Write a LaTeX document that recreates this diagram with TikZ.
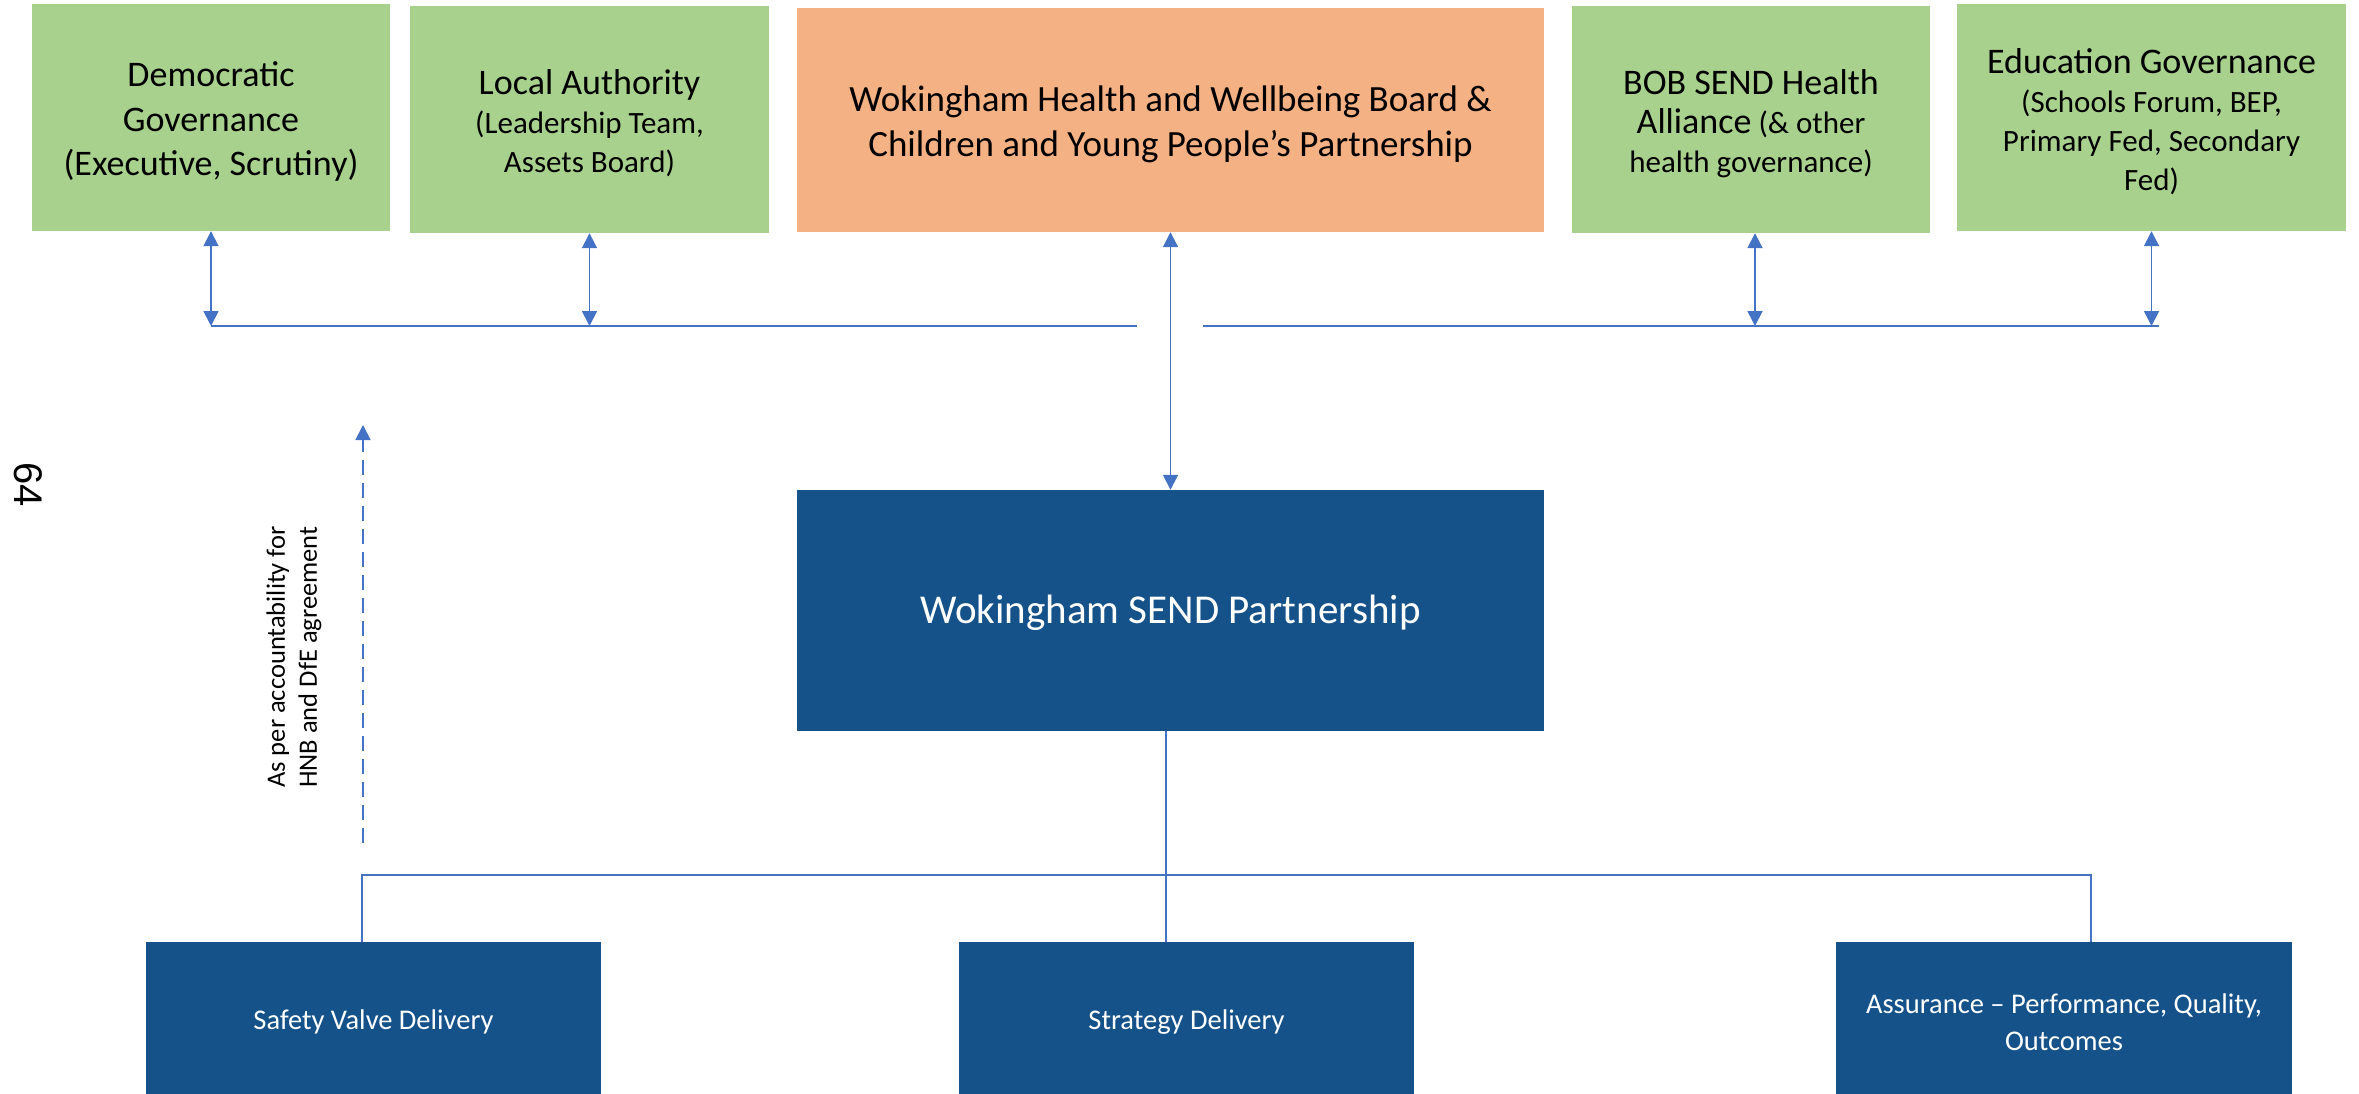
\documentclass[tikz,border=0pt]{standalone}
\usepackage{fontspec}
\setmainfont{Carlito}
\newfontfamily\pagenumfont{Liberation Sans}
\usetikzlibrary{arrows.meta}

\definecolor{govgreen}{HTML}{A9D18E}
\definecolor{hwborange}{HTML}{F4B183}
\definecolor{sendblue}{HTML}{15528A}
\definecolor{linkblue}{HTML}{4472C4}

% larger heading line inside a governance box
\newcommand\govtitle[1]{{\fontsize{36}{39}\selectfont #1}}

\begin{document}
\begin{tikzpicture}[x=1pt,y=-1pt,
  govbox/.style={fill=govgreen, inner sep=0pt, minimum height=227pt},
  boxtext/.style={align=center, inner sep=0pt, yshift=-4pt},
  govtext/.style={boxtext, font=\fontsize{31}{39}\selectfont},
  hwbbox/.style={fill=hwborange, inner sep=0pt},
  sendbox/.style={fill=sendblue, inner sep=0pt},
  sendtext/.style={boxtext, text=white},
  tasktext/.style={sendtext, font=\fontsize{28.5}{37}\selectfont},
  link/.style={draw=linkblue, line width=1.8pt},
  twoway/.style={link, {Triangle[width=15pt,length=15pt]}-{Triangle[width=15pt,length=15pt]}},
  dashlink/.style={link, dash pattern=on 15pt off 8pt, -{Triangle[width=15pt,length=15pt]}}
]
\path[use as bounding box] (0,0) rectangle (2359,1094);

% governance bodies across the top
\node[govbox, minimum width=358pt,
  label={[govtext, font=\fontsize{36}{44.5}\selectfont]center:{Democratic\\Governance\\(Executive, Scrutiny)}}]
  (dem) at (211,117.5) {};
\node[govbox, minimum width=359pt,
  label={[govtext]center:{\govtitle{Local Authority}\\(Leadership Team,\\Assets Board)}}]
  (la) at (589.5,119.5) {};
\node[hwbbox, minimum width=747pt, minimum height=224pt,
  label={[boxtext, font=\fontsize{37}{45}\selectfont]center:{Wokingham Health and Wellbeing Board \&\\Children and Young People’s Partnership}}]
  (hwb) at (1170.5,120) {};
\node[govbox, minimum width=358pt,
  label={[govtext]center:{\govtitle{BOB SEND Health}\\\govtitle{Alliance} (\& other\\health governance)}}]
  (bob) at (1751,119.5) {};
\node[govbox, minimum width=389pt,
  label={[govtext]center:{\govtitle{Education Governance}\\(Schools Forum, BEP,\\Primary Fed, Secondary\\Fed)}}]
  (edu) at (2151.5,117.5) {};

% partnership and delivery groups
\node[sendbox, minimum width=747pt, minimum height=241pt,
  label={[sendtext, yshift=2pt, font=\fontsize{41}{49}\selectfont]center:Wokingham SEND Partnership}]
  (send) at (1170.5,610.5) {};
\node[sendbox, minimum width=455pt, minimum height=152pt,
  label={[tasktext]center:Safety Valve Delivery}]
  (sv) at (373.5,1018) {};
\node[sendbox, minimum width=455pt, minimum height=152pt,
  label={[tasktext]center:Strategy Delivery}]
  (sd) at (1186.5,1018) {};
\node[sendbox, minimum width=456pt, minimum height=152pt,
  label={[tasktext]center:{Assurance – Performance, Quality,\\Outcomes}}]
  (as) at (2064,1018) {};

% upper bus line
\coordinate (busA) at (211,326);
\coordinate (gapL) at (1137,326);
\coordinate (gapR) at (1203,326);
\coordinate (busB) at (2159,326);
\draw[link] (busA) -- (gapL);
\draw[link] (gapR) -- (busB);
\draw[twoway] (dem.south) -- (dem.south |- busA);
\draw[twoway] (la.south) -- (la.south |- busA);
\draw[twoway] ([xshift=4pt]bob.south) -- ([xshift=4pt]bob.south |- busA);
\draw[twoway] (edu.south) -- (edu.south |- busA);
\draw[twoway] (hwb.south) -- (send.north);

% lower bus line
\coordinate (lowL) at (362,875);
\coordinate (lowM) at (1166,875);
\coordinate (lowR) at (2091,875);
\draw[link, line width=1.5pt] (lowL |- sv.north) -- (lowL) -- (lowR) -- (lowR |- as.north);
\draw[link, line width=1.5pt] (lowM |- send.south) -- (lowM |- sd.north);

% accountability arrow
\coordinate (accLow) at (363,843);
\coordinate (accTop) at (363,425);
\draw[dashlink] (accLow) -- (accTop);
\node[rotate=90, align=left, inner sep=0pt, font=\fontsize{26.5}{32}\selectfont]
  (acc) at (294,657) {As per accountability for\\HNB and DfE agreement};

% page number
\node[rotate=-90, inner sep=0pt, font=\pagenumfont\fontsize{40}{48}\selectfont]
  (pnum) at (28,485) {64};
\end{tikzpicture}
\end{document}
